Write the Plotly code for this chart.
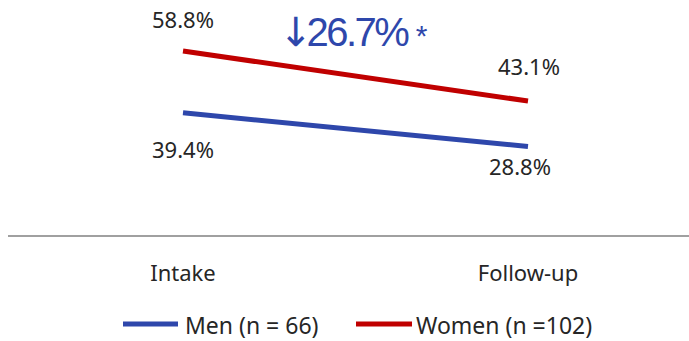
import plotly.graph_objects as go

# Share of participants, by sex, at intake and at follow-up
time_points = ["Intake", "Follow-up"]
men_pct = [39.4, 28.8]
women_pct = [58.8, 43.1]
series_names = ["Men (n = 66)", "Women (n =102)"]
change_arrow = "↓"
change_text = "26.7%"
change_mark = "*"

BLUE = "#2E47AB"
RED = "#C00000"
TEXT = "#262626"
LABEL_FONT = "Noto Sans"

W, H = 689, 341
ML, MR, MT, MB = 8, 0, 0, 106
PW, PH = W - ML - MR, H - MT - MB


def px(xpix):
    return (xpix - ML) / PW


def py(ypix):
    return (MT + PH - ypix) / PH


xs = list(range(len(time_points)))
fig = go.Figure()
for vals, color, name in [(men_pct, BLUE, series_names[0]), (women_pct, RED, series_names[1])]:
    fig.add_trace(go.Scatter(x=xs, y=vals, mode="lines", name=name,
                             line=dict(color=color, width=5), showlegend=False))

# value labels next to each end point
label_shift = {"women": [32, 35], "men": [-36, -19]}
label_xshift = {"women": [0, 1], "men": [0, -8]}
for key, vals in [("women", women_pct), ("men", men_pct)]:
    for i, v in enumerate(vals):
        fig.add_annotation(x=xs[i], y=v, text=f"{v:.1f}%", showarrow=False,
                           xref="x", yref="y", yshift=label_shift[key][i],
                           xshift=label_xshift[key][i],
                           font=dict(family=LABEL_FONT, size=22, color=TEXT))

# relative change note: tall arrow, tightly spaced figure, small asterisk
note = ("<span style='font-family:\"DejaVu Sans\";letter-spacing:-6px'>" + change_arrow + "</span>"
        "<span style='letter-spacing:-2.5px'>" + change_text + "</span>"
        "<span style='font-size:30px'> " + change_mark + "</span>")
fig.add_annotation(x=px(354), y=py(32), xref="paper", yref="paper", text=note,
                   showarrow=False, xanchor="center", yanchor="middle",
                   font=dict(family="Liberation Sans", size=40, color=BLUE))

# legend drawn along the bottom
legend_items = [(series_names[0], BLUE, 123, 178, 183), (series_names[1], RED, 356, 412, 414)]
for name, color, x0, x1, xt in legend_items:
    fig.add_shape(type="line", xref="paper", yref="paper", x0=px(x0), x1=px(x1),
                  y0=py(324), y1=py(324), line=dict(color=color, width=5))
    fig.add_annotation(x=px(xt), y=py(325), xref="paper", yref="paper", text=name,
                       showarrow=False, xanchor="left", yanchor="middle",
                       font=dict(family=LABEL_FONT, size=23, color=TEXT))

x_lo = (ML - 183) / 345
x_hi = (W - MR - 183) / 345
y_scale = 3.183
y_zero = 238.2
fig.update_layout(
    width=W, height=H, margin=dict(l=ML, r=MR, t=MT, b=MB),
    paper_bgcolor="white", plot_bgcolor="white",
    xaxis=dict(range=[x_lo, x_hi], tickvals=xs, ticktext=time_points,
               showgrid=False, zeroline=False, showline=True, linecolor="#A0A0A0",
               linewidth=2, ticks="", ticklabelstandoff=18,
               tickfont=dict(family=LABEL_FONT, size=22, color=TEXT)),
    yaxis=dict(range=[(y_zero - (MT + PH)) / y_scale, (y_zero - MT) / y_scale],
               visible=False, showgrid=False, zeroline=False),
    showlegend=False,
)

fig.write_html("out.html")
